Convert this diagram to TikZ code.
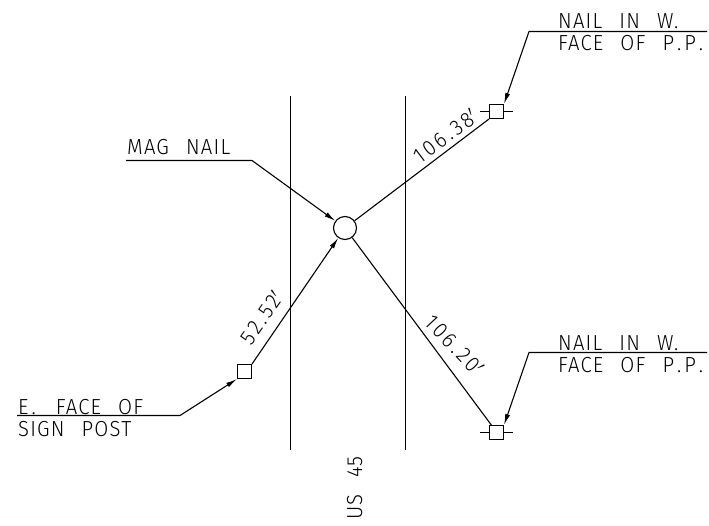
\documentclass[tikz,border=0pt]{standalone}
\usepackage{fontspec}
\setmainfont{Fira Sans}[UprightFont=* Light,LetterSpace=5.5,WordSpace=2.5,FakeStretch=0.93]
\usetikzlibrary{arrows.meta}
\newcommand{\dotgap}{\kern3pt.\kern3pt}
\tikzset{
  line/.style={draw=black,line width=1.1pt},
  tip/.style={-{Latex[length=11pt,width=5pt]}},
  sym/.style={draw=black,line width=1.1pt,fill=white,minimum size=14pt,inner sep=0pt,rectangle},
  lab/.style={font=\fontsize{21.8}{22}\selectfont,inner sep=0pt,anchor=base west,text=black},
  dim/.style={font=\fontsize{21.8}{22}\selectfont\addfontfeature{LetterSpace=12},inner sep=0pt,anchor=base,text=black},
}
\begin{document}
\begin{tikzpicture}[x=1pt,y=-1pt]
\useasboundingbox (0,0) rectangle (709,525);
% road edges
\coordinate (ra) at (290.5,96); \coordinate (rb) at (290.5,450);
\coordinate (rc) at (405.5,96); \coordinate (rd) at (405.5,450);
\draw[line] (ra)--(rb);
\draw[line] (rc)--(rd);
% symbols
\node[circle,draw=black,line width=1.1pt,minimum size=23pt,inner sep=0pt] (mag) at (345,228) {};
\node[sym] (n1) at (496.5,111.5) {};
\node[sym] (n2) at (496.5,432.5) {};
\node[sym] (post) at (244.5,371.5) {};
% ticks
\draw[line] (n1.west)--++(-8.5,0);
\draw[line] (n1.east)--++(8.5,0);
\draw[line] (n2.west)--++(-8.5,0);
\draw[line] (n2.east)--++(8.5,0);
% ties
\coordinate (n2t) at (491.7,425.5);
\draw[line] (mag)--(n1.south west);
\draw[line] (mag)--(n2t);
\draw[line,tip] (post.north east)--(mag);
% leaders
\coordinate (l1a) at (707,31.5); \coordinate (l1b) at (529,31.5);
\coordinate (l2a) at (707,352.5); \coordinate (l2b) at (529,352.5);
\coordinate (l3a) at (17,415.5); \coordinate (l3b) at (180,415.5);
\coordinate (l4a) at (126,160.5); \coordinate (l4b) at (252,160.5);
\draw[line,tip] (l1a)--(l1b)--(n1.north east);
\draw[line,tip] (l2a)--(l2b)--(n2.north east);
\draw[line,tip] (l3a)--(l3b)--(post.south west);
\draw[line,tip] (l4a)--(l4b)--(mag);
% labels
\node[lab] (t1) at (558,28) {NAIL IN W.};
\node[lab] (t2) at (558,50) {FACE OF P\dotgap P\dotgap};
\node[lab] (t3) at (558,350) {NAIL IN W.};
\node[lab] (t4) at (558,372) {FACE OF P\dotgap P\dotgap};
\node[lab] (t5) at (18,414) {E\dotgap{} FACE OF};
\node[lab] (t6) at (18,436) {SIGN POST};
\node[lab] (t7) at (127,154) {MAG NAIL};
\node[dim,rotate=37] (d1) at (450,142) {106\dotgap 38$'$};
\node[dim,rotate=-47] (d2) at (449,350) {106\dotgap 20$'$};
\node[dim,rotate=55] (d3) at (268,322) {52\dotgap 52$'$};
\node[lab,rotate=90] (us) at (362,520) {US 45};
\end{tikzpicture}
\end{document}
